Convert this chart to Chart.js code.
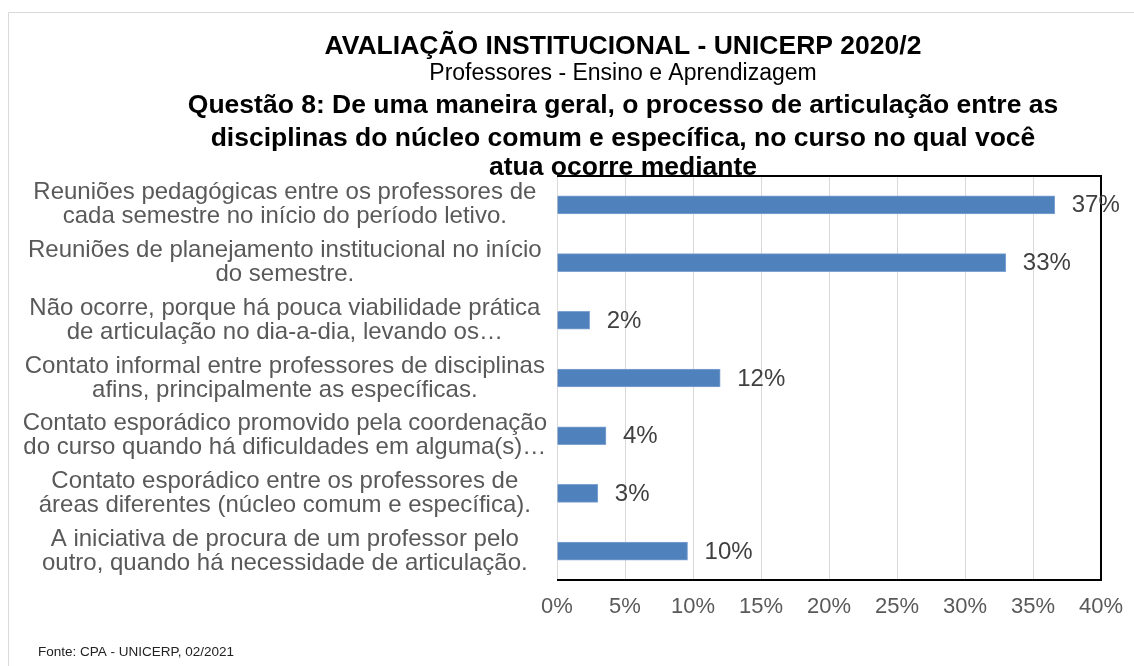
<!DOCTYPE html>
<html>
<head>
<meta charset="utf-8">
<script src="https://cdn.jsdelivr.net/npm/chart.js@4/dist/chart.umd.min.js"></script>
<style>
  html, body { margin: 0; padding: 0; background: #fff; }
  #wrap { width: 1134px; height: 666px; }
</style>
</head>
<body>
<div id="wrap"><canvas id="myChart" width="1134" height="666"></canvas></div>
<script>
'use strict';

const categories = [
  ['Reuniões pedagógicas entre os professores de', 'cada semestre no início do período letivo.'],
  ['Reuniões de planejamento institucional no início', 'do semestre.'],
  ['Não ocorre, porque há pouca viabilidade prática', 'de articulação no dia-a-dia, levando os…'],
  ['Contato informal entre professores de disciplinas', 'afins, principalmente as específicas.'],
  ['Contato esporádico promovido pela coordenação', 'do curso quando há dificuldades em alguma(s)…'],
  ['Contato esporádico entre os professores de', 'áreas diferentes (núcleo comum e específica).'],
  ['A iniciativa de procura de um professor pelo', 'outro, quando há necessidade de articulação.']
];

// percent of answers (bar length)
const percents = [36.6, 33.0, 2.4, 12.0, 3.6, 3.0, 9.6];
// labels printed next to each bar
const percentLabels = ['37%', '33%', '2%', '12%', '4%', '3%', '10%'];

const xTicks = [0, 5, 10, 15, 20, 25, 30, 35, 40];

const titleLines = [
  'AVALIAÇÃO INSTITUCIONAL - UNICERP 2020/2',
  'Professores - Ensino e Aprendizagem',
  'Questão 8: De uma maneira geral, o processo de articulação entre as',
  'disciplinas do núcleo comum e específica, no curso no qual você',
  'atua ocorre mediante'
];
const sourceText = 'Fonte: CPA - UNICERP, 02/2021';

const FONT = '"Liberation Sans", Arial, sans-serif';

// white page, thin frame, titles and source note
const decorPlugin = {
  id: 'decor',
  beforeDraw( chart ) {
    const ctx = chart.ctx;
    ctx.save();
    ctx.fillStyle = '#fff';
    ctx.fillRect( 0, 0, chart.width, chart.height );
    ctx.strokeStyle = '#d9d9d9';
    ctx.lineWidth = 1;
    ctx.beginPath();
    ctx.moveTo( 8.5, chart.height );
    ctx.lineTo( 8.5, 12.5 );
    ctx.lineTo( chart.width, 12.5 );
    ctx.stroke();

    ctx.fillStyle = '#222';
    ctx.textBaseline = 'middle';
    ctx.textAlign = 'left';
    ctx.font = '13.5px ' + FONT;
    ctx.fillText( sourceText, 38, 652 );
    ctx.restore();
  },
  afterDraw( chart ) {
    const ctx = chart.ctx;
    const a = chart.chartArea;
    ctx.save();
    // plot area border (top, right, bottom)
    ctx.strokeStyle = '#000';
    ctx.lineWidth = 2;
    ctx.beginPath();
    ctx.moveTo( a.left, a.top );
    ctx.lineTo( a.right, a.top );
    ctx.lineTo( a.right, a.bottom );
    ctx.lineTo( a.left, a.bottom );
    ctx.stroke();

    // value labels
    const meta = chart.getDatasetMeta( 0 );
    ctx.fillStyle = '#404040';
    ctx.font = '24px ' + FONT;
    ctx.textAlign = 'left';
    ctx.textBaseline = 'middle';
    meta.data.forEach( ( bar, i ) => {
      ctx.fillText( percentLabels[i], bar.x + 17, bar.y + 1 );
    } );

    // titles
    const tops = [47, 74, 106, 139, 168];
    ctx.fillStyle = '#000';
    ctx.textAlign = 'center';
    for ( let i = 0; i < titleLines.length; i++ ) {
      ctx.font = ( i === 1 ? '23px ' : 'bold 26.5px ' ) + FONT;
      ctx.fillText( titleLines[i], 623, tops[i] );
    }
    ctx.restore();
  }
};

const ctx = document.getElementById( 'myChart' ).getContext( '2d' );
// eslint-disable-next-line no-unused-vars
const myChart = new Chart( ctx, {
  type: 'bar',
  data: {
    labels: categories,
    datasets: [{
      data: percents,
      backgroundColor: '#4f81bd',
      borderColor: '#7ea3d3',
      borderWidth: 1,
      barThickness: 18
    }]
  },
  options: {
    indexAxis: 'y',
    responsive: false,
    animation: false,
    layout: { padding: { left: 0, top: 176, right: 33, bottom: 40 } },
    plugins: {
      legend: { display: false },
      tooltip: { enabled: false },
      title: { display: false }
    },
    scales: {
      x: {
        min: xTicks[0],
        max: xTicks[xTicks.length - 1],
        afterBuildTicks( scale ) {
          scale.ticks = xTicks.map( v => ( { value: v } ) );
        },
        afterFit( scale ) {
          scale.height = 46;
          scale.paddingRight = 0;
          scale.paddingLeft = 0;
        },
        grid: { color: '#d9d9d9', lineWidth: 1, drawTicks: false },
        border: { display: false },
        ticks: {
          padding: 14,
          color: '#595959',
          font: { family: FONT, size: 22 },
          callback: v => v + '%'
        }
      },
      y: {
        afterFit( scale ) {
          scale.width = 557;
        },
        grid: { display: false, drawTicks: false },
        border: { display: true, color: '#d9d9d9', width: 1 },
        ticks: {
          crossAlign: 'center',
          padding: 10,
          color: '#595959',
          font: { family: FONT, size: 24, lineHeight: 1.0 }
        }
      }
    }
  },
  plugins: [decorPlugin]
} );
</script>
</body>
</html>
